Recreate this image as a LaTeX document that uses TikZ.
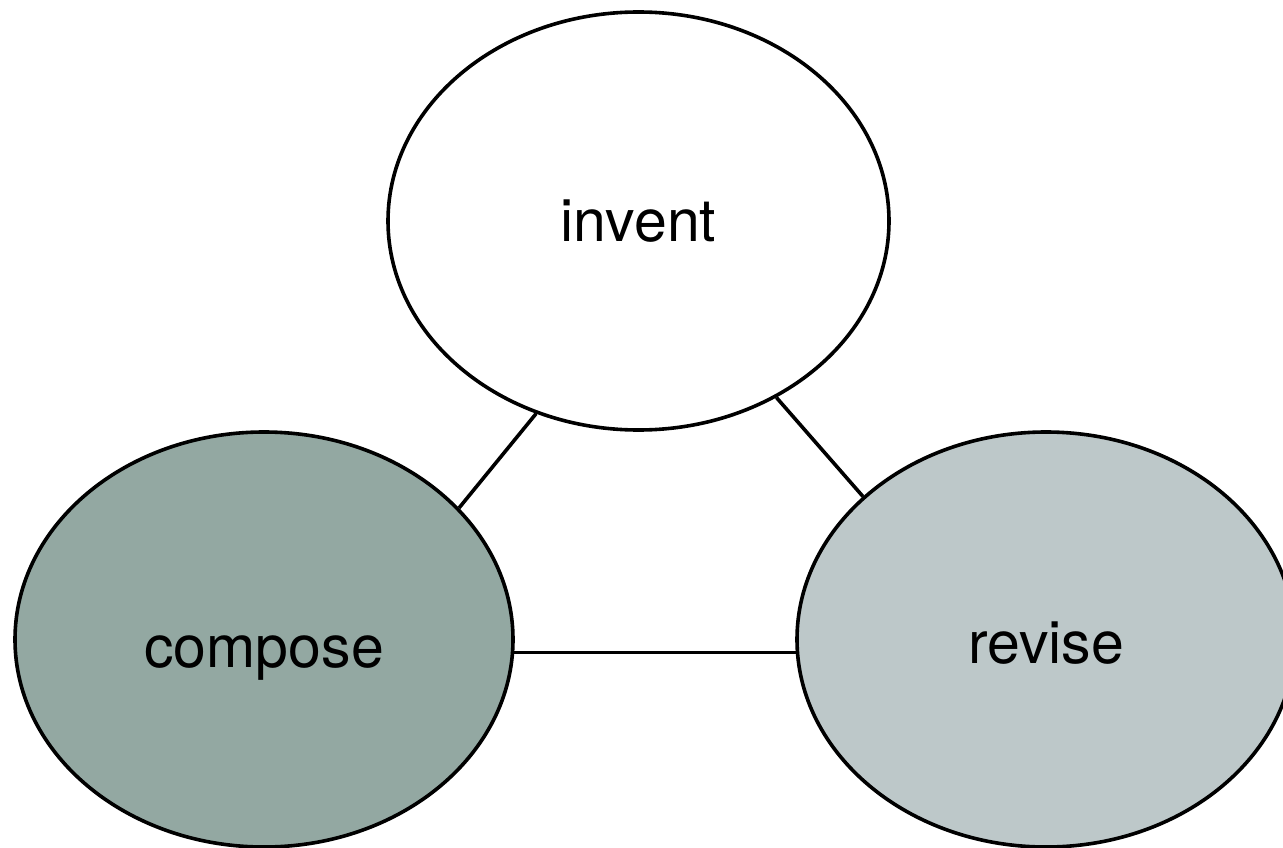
\documentclass[tikz,border=0pt]{standalone}
\usepackage{fontspec}
\setmainfont{TeX Gyre Heros}
\usetikzlibrary{shapes.geometric}
\definecolor{composefill}{RGB}{147,168,162}
\definecolor{revisefill}{RGB}{189,200,201}
\tikzset{
  blob/.style={ellipse, draw=black, line width=3.6pt, inner sep=0pt, text depth=0pt, font=\fontsize{59}{60}\selectfont},
  link/.style={draw=black, line width=3.6pt}
}
\begin{document}
\begin{tikzpicture}[x=1pt,y=-1pt]
\useasboundingbox (0,0) rectangle (1283,848);
\node[blob, fill=white, text height=40pt, minimum width=501pt, minimum height=418pt] (invent) at (638.5,221) {invent};
\node[blob, fill=composefill, text height=55pt, minimum width=498pt, minimum height=415pt] (compose) at (264,639.5) {compose};
\node[blob, fill=revisefill, text height=47pt, minimum width=498pt, minimum height=415pt] (revise) at (1046,639.5) {revise};
\draw[link] (invent.242.7) -- (compose.34.5);
\draw[link] (invent.308) -- (revise.142);
\draw[link] (compose.-3.8) -- (revise.183.8);
\end{tikzpicture}
\end{document}
